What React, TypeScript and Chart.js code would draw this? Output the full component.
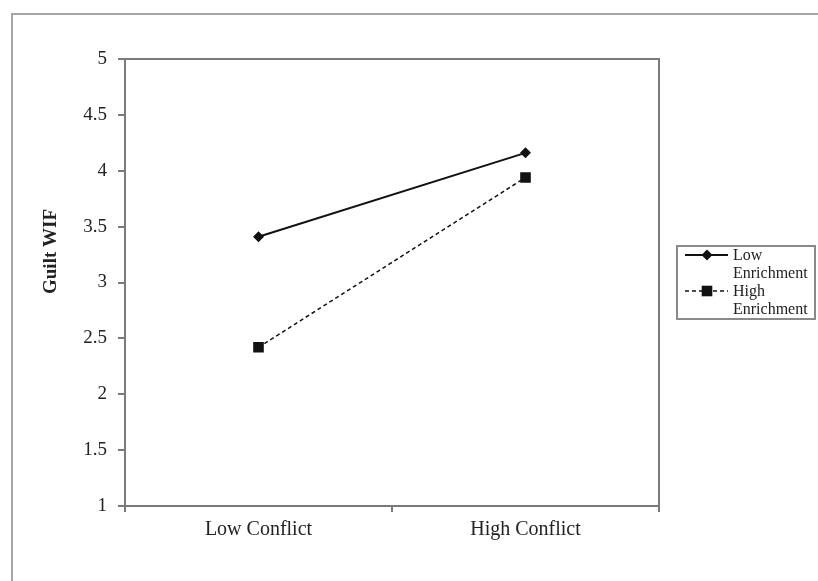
import React, { useEffect, useRef } from "react";
import { Chart, registerables } from "chart.js";

Chart.register(...registerables);

// ---- data ----
const categories = ["Low Conflict", "High Conflict"];
const lowEnrichment = [3.41, 4.16];
const highEnrichment = [2.42, 3.94];
const seriesNames = ["Low Enrichment", "High Enrichment"];
const legendLines = [
  ["Low", "Enrichment"],
  ["High", "Enrichment"],
];
const yMin = 1;
const yMax = 5;
const yStep = 0.5;
const yAxisTitle = "Guilt WIF";

const FONT = "'Liberation Serif', 'Times New Roman', serif";
const TEXT = "#222222";
const AXIS = "#7a7a7a";

const framePlugin = {
  id: "frame",
  afterDatasetsDraw(chart: any) {
    const { ctx, chartArea } = chart;
    ctx.save();
    ctx.strokeStyle = AXIS;
    ctx.lineWidth = 2;
    ctx.strokeRect(chartArea.left, chartArea.top, chartArea.right - chartArea.left, chartArea.bottom - chartArea.top);
    ctx.restore();
  },
};

const yTitlePlugin = {
  id: "yTitle",
  afterDraw(chart: any) {
    const { ctx, chartArea } = chart;
    ctx.save();
    ctx.translate(chartArea.left - 74, (chartArea.top + chartArea.bottom) / 2 - 31);
    ctx.rotate(-Math.PI / 2);
    ctx.font = `bold 19px ${FONT}`;
    ctx.fillStyle = TEXT;
    ctx.textAlign = "center";
    ctx.textBaseline = "middle";
    ctx.fillText(yAxisTitle, 0, 0);
    ctx.restore();
  },
};

function drawMarker(ctx: CanvasRenderingContext2D, style: string, x: number, y: number, r: number) {
  ctx.beginPath();
  if (style === "rectRot") {
    ctx.moveTo(x, y - r);
    ctx.lineTo(x + r, y);
    ctx.lineTo(x, y + r);
    ctx.lineTo(x - r, y);
    ctx.closePath();
  } else {
    const s = Math.SQRT1_2 * r;
    ctx.rect(x - s, y - s, 2 * s, 2 * s);
  }
  ctx.fill();
}

const legendPlugin = {
  id: "sideLegend",
  afterDraw(chart: any) {
    const { ctx, chartArea } = chart;
    const left = chartArea.right + 18;
    const width = 138;
    const lineH = 18;
    const rowH = 36;
    const height = rowH * chart.data.datasets.length + 1;
    const top = (chartArea.top + chartArea.bottom) / 2 - height / 2;
    ctx.save();
    ctx.strokeStyle = "#8a8a8a";
    ctx.lineWidth = 2;
    ctx.strokeRect(left, top, width, height);
    chart.data.datasets.forEach((ds: any, i: number) => {
      const cy = top + 9 + i * rowH;
      ctx.strokeStyle = ds.borderColor;
      ctx.lineWidth = ds.borderWidth;
      ctx.setLineDash(ds.borderDash || []);
      ctx.beginPath();
      ctx.moveTo(left + 8, cy);
      ctx.lineTo(left + 51, cy);
      ctx.stroke();
      ctx.setLineDash([]);
      ctx.fillStyle = ds.pointBackgroundColor;
      drawMarker(ctx, ds.pointStyle, left + 30, cy, ds.pointRadius);
      ctx.fillStyle = TEXT;
      ctx.font = `16px ${FONT}`;
      ctx.textAlign = "left";
      ctx.textBaseline = "middle";
      legendLines[i].forEach((t, j) => {
        ctx.fillText(t, left + 56, cy + 1 + j * lineH);
      });
    });
    ctx.restore();
  },
};

export default function App() {
  const ref = useRef<HTMLCanvasElement | null>(null);

  useEffect(() => {
    if (!ref.current) return;
    const chart = new Chart(ref.current, {
      type: "line",
      data: {
        labels: categories,
        datasets: [
          {
            label: seriesNames[0],
            data: lowEnrichment,
            borderColor: "#111111",
            borderWidth: 2,
            pointStyle: "rectRot",
            pointRadius: 5.5,
            pointBackgroundColor: "#111111",
            pointBorderWidth: 0,
            backgroundColor: "#111111",
          },
          {
            label: seriesNames[1],
            data: highEnrichment,
            borderColor: "#111111",
            borderWidth: 1.5,
            borderDash: [4, 3],
            pointStyle: "rect",
            pointRadius: 7.5,
            pointBackgroundColor: "#111111",
            pointBorderWidth: 0,
            backgroundColor: "#111111",
          },
        ],
      },
      options: {
        animation: false,
        responsive: false,
        layout: { padding: { left: 0, top: 59, right: 159, bottom: 0 } },
        plugins: {
          legend: { display: false },
          tooltip: { enabled: false },
        },
        scales: {
          x: {
            type: "category",
            offset: true,
            afterFit: (s: any) => {
              s.height = 75;
            },
            grid: {
              offset: true,
              drawOnChartArea: false,
              drawTicks: true,
              tickLength: 6,
              color: AXIS,
              lineWidth: 2,
            },
            border: { color: AXIS, width: 2 },
            ticks: {
              color: TEXT,
              font: { family: FONT, size: 20 },
              padding: 6,
              maxRotation: 0,
            },
          },
          y: {
            min: yMin,
            max: yMax,
            afterFit: (s: any) => {
              s.width = 125;
            },
            grid: {
              drawOnChartArea: false,
              drawTicks: true,
              tickLength: 7,
              color: AXIS,
              lineWidth: 2,
            },
            border: { color: AXIS, width: 2 },
            ticks: {
              stepSize: yStep,
              color: TEXT,
              font: { family: FONT, size: 19 },
              padding: 11,
              callback: (v: any) => String(Number(v)),
            },
          },
        },
      },
      plugins: [framePlugin, yTitlePlugin, legendPlugin],
    } as any);
    return () => chart.destroy();
  }, []);

  return (
    <div style={{ position: "fixed", left: 0, top: 0, width: 818, height: 581, background: "#ffffff", overflow: "hidden" }}>
      <div
        style={{
          position: "absolute",
          left: 11,
          top: 13,
          right: -20,
          bottom: -20,
          borderLeft: "2px solid #a6a6a6",
          borderTop: "2px solid #a6a6a6",
        }}
      />
      <canvas ref={ref} width={818} height={581} style={{ position: "absolute", left: 0, top: 0 }} />
    </div>
  );
}
